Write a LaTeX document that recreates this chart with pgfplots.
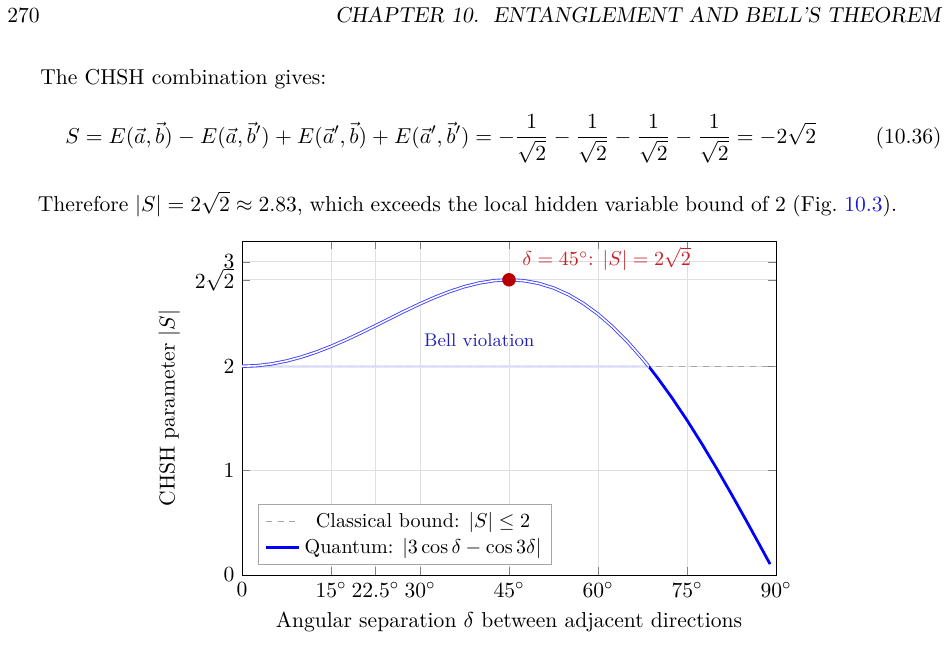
\RequirePackage{fix-cm}
\documentclass[border=0pt,11pt]{standalone}
\usepackage{pgfplots}
\pgfplotsset{compat=1.18}
\usepackage{amsmath}

% |3 cos d - cos 3d| sampled in degrees; split where it crosses the classical bound 2
\pgfplotstableread{
d S
0     2.0000000
2.5   2.0056997
5     2.0226583
7.5   2.0504552
10    2.0883980
12.5  2.1355347
15    2.1906706
17.5  2.2523896
20    2.3190778
22.5  2.3889551
25    2.4601044
27.5  2.5305062
30    2.5980762
32.5  2.6607004
35    2.7162750
37.5  2.7627433
40    2.7981332
42.5  2.8205933
45    2.8284271
47.5  2.8201239
50    2.7943882
52.5  2.7501637
55    2.6866550
57.5  2.6033437
60    2.5000000
62.5  2.3766907
65    2.2337807
67.5  2.0719297
68.53 2.0000000
}\violation

\pgfplotstableread{
d S
68.53 2.0000000
70    1.8920857
72.5  1.6954707
75    1.4835638
77.5  1.2580802
80    1.0209446
82.5  0.7742620
85    0.5202861
87.5  0.2613844
89    0.1046932
}\quantum

\definecolor{linkblue}{rgb}{0.1,0.1,0.85}
\definecolor{markred}{rgb}{0.72,0.0,0.0}
\definecolor{notered}{rgb}{0.78,0.12,0.15}
\definecolor{violet}{rgb}{0.13,0.13,0.72}

\begin{document}
\begin{tikzpicture}
\begin{scope}[x=0.5076pt, y=-0.5076pt]
  \path[use as bounding box] (0,0) rectangle (950,662);
  \coordinate (axsw) at (242,575);
  % running head
  \node[anchor=base west, inner sep=0] at (7,22) {270};
  \node[anchor=base east, inner sep=0] at (941,22) {\slshape CHAPTER 10.\ \ ENTANGLEMENT AND BELL'S THEOREM};
  % body text
  \node[anchor=base west, inner sep=0] at (40,84.5) {The CHSH combination gives:};
  \node[anchor=base west, inner sep=0] at (65,143) {\medmuskip=4.4mu $\displaystyle S = E(\vec{a},\vec{b}) - E(\vec{a},\vec{b}') + E(\vec{a}',\vec{b}) + E(\vec{a}',\vec{b}') = -\frac{1}{\sqrt{2}} - \frac{1}{\sqrt{2}} - \frac{1}{\sqrt{2}} - \frac{1}{\sqrt{2}} = -2\sqrt{2}$};
  \node[anchor=base east, inner sep=0] at (942,143) {(10.36)};
  \node[anchor=base west, inner sep=0] at (37.5,211) {\spaceskip=3.36pt\relax Therefore $|S| = 2\sqrt{2} \approx 2.83$, which exceeds the local hidden variable bound of 2 (Fig.~\textcolor{linkblue}{10.3}).};
\end{scope}

\begin{axis}[
  at={(axsw)}, anchor=south west,
  scale only axis, width=271.06pt, height=169.54pt,
  xmin=0, xmax=90, ymin=0, ymax=3.2,
  xtick={0,15,22.5,30,45,60,75,90},
  xticklabels={$0$,$15^\circ$,$22.5^\circ$,$30^\circ$,$45^\circ$,$60^\circ$,$75^\circ$,$90^\circ$},
  ytick={0,1,2,2.8284271,3},
  yticklabels={$0$,$1$,$2$,$2\sqrt{2}$,$3$},
  grid=major, grid style={gray!25},
  xlabel={Angular separation $\delta$ between adjacent directions},
  ylabel={CHSH parameter $|S|$},
  legend pos=south west, legend cell align=center,
  legend style={draw=black!35, font=\fontsize{10.2}{12.5}\selectfont},
]
  \addplot[gray!70, dashed, semithick] coordinates {(0,2) (90,2)};
  \addlegendentry{Classical bound: $|S|\le 2$}
  \addplot[blue, line width=1.4pt] table[x=d, y=S] {\quantum};
  \addlegendentry{Quantum: $|3\cos\delta-\cos 3\delta|$}
  % pale band along the bound under the violating arc
  \addplot[blue!12, line width=1.6pt, opacity=0.85, forget plot] coordinates {(0,2) (68.53,2)};
  \addplot[draw=blue!75, line width=0.45pt, double=white, double distance=0.8pt, forget plot] table[x=d, y=S] {\violation};
  \addplot[only marks, mark=*, mark size=3.2pt, color=markred, forget plot] coordinates {(45,2.8284271)};
  \node[anchor=base west, inner sep=0, text=notered, font=\fontsize{10.2}{12}\selectfont] at (axis cs:47.2,2.967) {$\delta = 45^\circ$: $|S| = 2\sqrt{2}$};
  \node[anchor=base, inner sep=0, text=violet, font=\fontsize{9.3}{11}\selectfont] at (axis cs:40,2.19) {Bell violation};
\end{axis}
\end{tikzpicture}
\end{document}
